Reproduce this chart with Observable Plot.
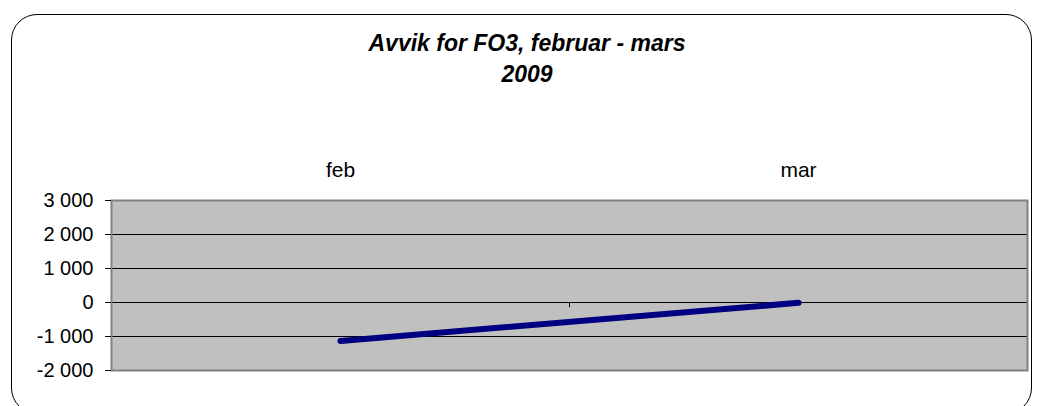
<!DOCTYPE html>
<html><head><meta charset="utf-8">
<script src="https://cdn.jsdelivr.net/npm/d3@7"></script>
<script src="https://cdn.jsdelivr.net/npm/@observablehq/plot@0.6"></script>
<style>
body{margin:0;background:#fff;font-family:"Liberation Sans",Arial,sans-serif;}
#wrap{position:relative;width:1041px;height:406px;overflow:hidden;}
#border{position:absolute;left:11px;top:14px;width:1021px;height:400px;border:1px solid #000;border-radius:26px;box-sizing:border-box;}
#title{position:absolute;left:0;width:1054px;top:28px;text-align:center;font-weight:bold;font-style:italic;font-size:23px;line-height:31px;color:#000;}
#chart{position:absolute;left:0;top:0;}
</style></head><body>
<div id="wrap"><div id="border"></div>
<div id="title">Avvik for FO3, februar - mars<br>2009</div>
<div id="chart"></div></div>
<script>
const categories = ["feb", "mar"];
const values = [-1130, -10];
const yTicks = [-2000, -1000, 0, 1000, 2000, 3000];
const yTickLabels = ["-2 000", "-1 000", "0", "1 000", "2 000", "3 000"];

const data = categories.map((c, i) => ({month: c, value: values[i]}));
const fmt = v => yTickLabels[yTicks.indexOf(v)];

const chart = Plot.plot({
  width: 1041, height: 406,
  marginTop: 200, marginBottom: 36, marginLeft: 111, marginRight: 14,
  style: {fontFamily: "'Liberation Sans', Arial, sans-serif", color: "#000", background: "transparent"},
  x: {type: "point", domain: categories, padding: 0.5},
  y: {domain: [-2000, 3000]},
  marks: [
    Plot.frame({fill: "#C0C0C0", stroke: null}),
    Plot.ruleY(yTicks, {stroke: "#000", strokeWidth: 1}),
    Plot.ruleX(categories, {x: d => d, y1: 0, y2: -150, dx: 229, stroke: "#000"}),
    Plot.line(data, {x: "month", y: "value", stroke: "#000080", strokeWidth: 6, strokeLinecap: "round"}),
    Plot.frame({stroke: "#808080", strokeWidth: 2}),
    Plot.axisY(yTicks, {tickSize: 6, tickPadding: 12, tickFormat: fmt, label: null, stroke: "#000", fontSize: 20}),
    Plot.axisX({anchor: "top", tickSize: 0, tickPadding: 24, label: null, fontSize: 21})
  ]
});
document.getElementById("chart").appendChild(chart);
</script></body></html>
